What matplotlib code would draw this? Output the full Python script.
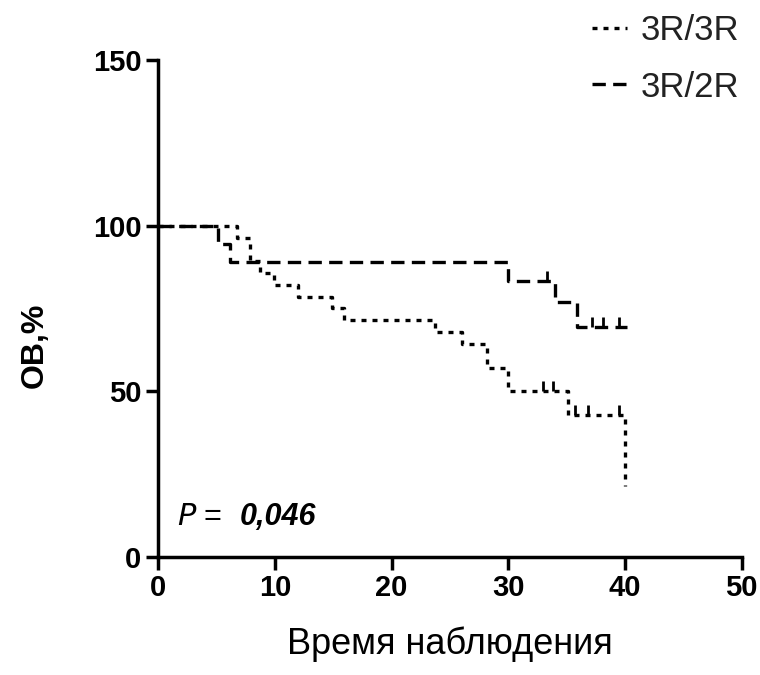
import matplotlib; matplotlib.use('Agg')
import matplotlib.pyplot as plt

# Kaplan-Meier steps
t_33 = [0, 6.8, 7.9, 8.7, 9.9, 12.0, 14.9, 15.9, 23.7, 26.0, 28.2, 30.0, 35.1, 40.0]
s_33 = [100, 96.4, 89.3, 85.7, 82.1, 78.6, 75.0, 71.4, 67.9, 64.3, 57.1, 50.0, 42.8, 21.4]
t_33_end = 40.0
cens_33_t = [33.0, 33.8, 35.7, 36.8, 39.5]
cens_33_s = [50.0, 50.0, 42.8, 42.8, 42.8]

t_32 = [0, 5.1, 6.2, 30.0, 34.0, 35.9]
s_32 = [100, 94.4, 88.9, 83.3, 77.0, 69.3]
t_32_end = 40.2
cens_32_t = [33.3, 37.2, 38.1, 39.5]
cens_32_s = [83.3, 69.3, 69.3, 69.3]

labels = ['3R/3R', '3R/2R']
x_ticks = [0, 10, 20, 30, 40, 50]
y_ticks = [0, 50, 100, 150]

FONT = 'Liberation Sans'
fig = plt.figure(figsize=(7.6, 6.75), dpi=100)
ax = fig.add_axes([0.208, 0.175, 0.768, 0.736])

ax.step(t_33 + [t_33_end], s_33 + [s_33[-1]], where='post', color='k', lw=2.4,
        ls=(0, (1.5, 1.8)), label=labels[0])
ax.step(t_32 + [t_32_end], s_32 + [s_32[-1]], where='post', color='k', lw=2.4,
        ls=(0, (4, 2.2)), label=labels[1])
ax.plot(cens_33_t, [v + 1.5 for v in cens_33_s], '|', color='k', ms=7, mew=2)
ax.plot(cens_32_t, [v + 1.5 for v in cens_32_s], '|', color='k', ms=7, mew=2)

ax.set_xlim(0, 50); ax.set_ylim(0, 150)
ax.set_xticks(x_ticks); ax.set_yticks(y_ticks)
for s in ['top', 'right']: ax.spines[s].set_visible(False)
for s in ['left', 'bottom']: ax.spines[s].set_linewidth(2.5)
ax.tick_params(direction='out', length=9, width=2.5, labelsize=21, pad=3)
for lab in ax.get_xticklabels() + ax.get_yticklabels():
    lab.set_fontweight('bold'); lab.set_family(FONT)

ax.set_xlabel('Время наблюдения', fontsize=26, family=FONT, labelpad=18)
fig.text(35/760, 1 - 345/675, 'ОВ,%', fontsize=23, fontweight='bold',
         family=FONT, rotation=90, ha='center', va='center')

ax.text(1.6, 12, '$\\it{P}$ = ', fontsize=22, family=FONT, va='center')
ax.text(7.0, 12, '0,046', fontsize=22, family=FONT, style='italic',
        fontweight='bold', va='center')

leg = fig.legend(handles=ax.get_lines()[:2], labels=labels, loc='upper left',
                 bbox_to_anchor=(592/760, 1 - 14/675), frameon=False,
                 borderpad=0, borderaxespad=0,
                 handlelength=1.0, handletextpad=0.4, labelspacing=0.68,
                 prop={'family': FONT, 'size': 25})
for t in leg.get_texts(): t.set_color('#222222')

fig.savefig('out.png', dpi=100)
